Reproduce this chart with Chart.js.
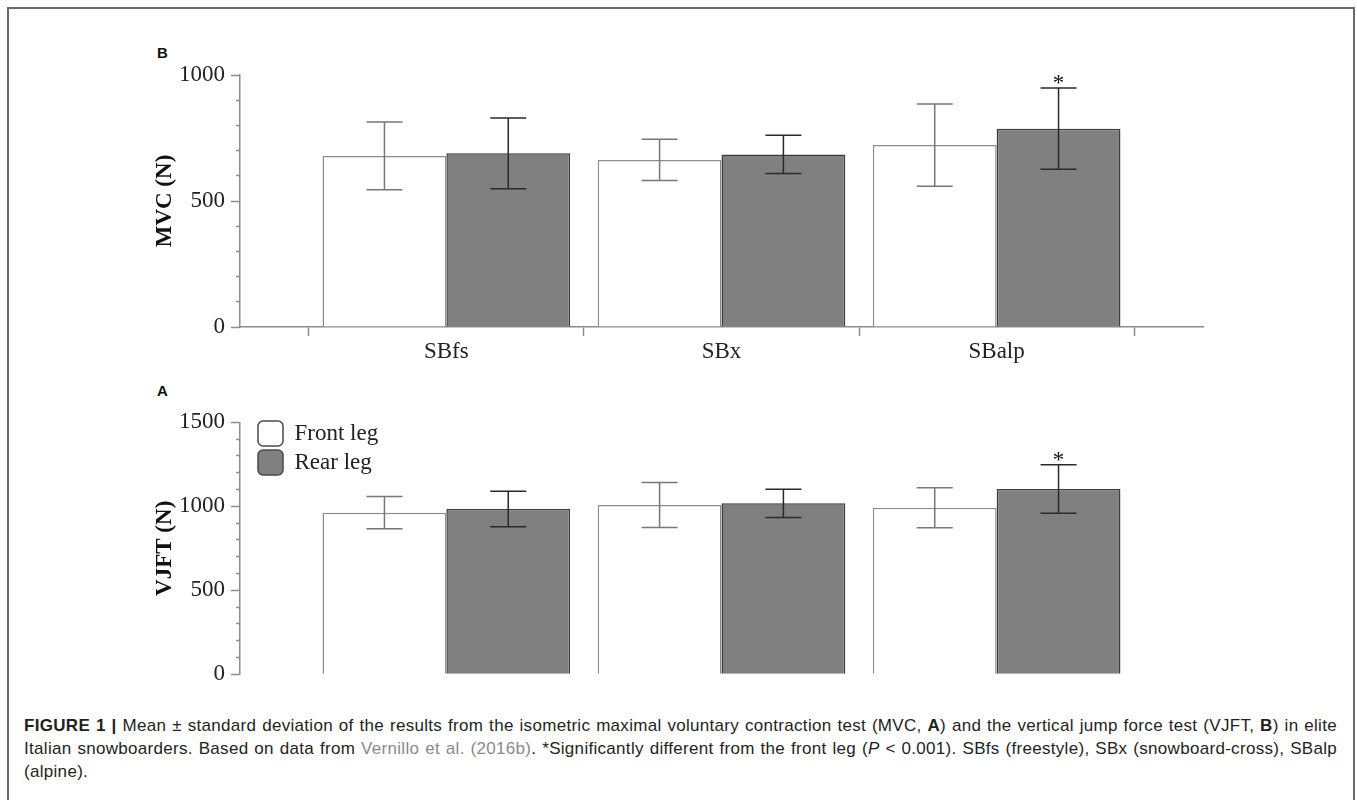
<!DOCTYPE html>
<html>
<head>
<meta charset="utf-8">
<script src="https://cdn.jsdelivr.net/npm/chart.js@4.4.1/dist/chart.umd.min.js"></script>
<style>
  html, body { margin: 0; padding: 0; background: #fff; width: 1357px; height: 800px; overflow: hidden; }
  #frame { position: absolute; left: 7px; top: 7px; width: 1344px; height: 900px; border: 2px solid #6a6a6a; border-bottom: none; }
  .panel { position: absolute; left: 157px; font: bold 15px "Liberation Sans", Arial, sans-serif; line-height: 15px; color: #111; }
  canvas { position: absolute; left: 0; }
  #chartB { top: 0; }
  #chartA { top: 370px; }
  #caption { position: absolute; left: 24px; top: 714px; width: 1313px; font: 17px "Liberation Sans", Arial, sans-serif; letter-spacing: 0.3px; line-height: 23px; color: #231f20; }
  #caption div { height: 23px; }
  #caption span.fill { white-space: nowrap; }
  #caption .ref { color: #8a8a8a; }
</style>
</head>
<body>
<div id="frame"></div>
<div class="panel" style="top:45px">B</div>
<div class="panel" style="top:383px">A</div>
<canvas id="chartB" width="1357" height="380"></canvas>
<canvas id="chartA" width="1357" height="330"></canvas>
<div id="caption">
  <div><span class="fill"><b>FIGURE 1 |</b> Mean ± standard deviation of the results from the isometric maximal voluntary contraction test (MVC, <b>A</b>) and the vertical jump force test (VJFT, <b>B</b>) in elite</span></div>
  <div><span class="fill">Italian snowboarders. Based on data from <span class="ref">Vernillo et al. (2016b)</span>. *Significantly different from the front leg (<i>P</i> &lt; 0.001). SBfs (freestyle), SBx (snowboard-cross), SBalp</span></div>
  <div><span>(alpine).</span></div>
</div>
<script>
const categories = ['SBfs', 'SBx', 'SBalp'];
const seriesNames = ['Front leg', 'Rear leg'];

// panel B - MVC (N), mean and SD
const mvcFrontMean = [679, 663, 722];
const mvcFrontSd = [134, 82, 163];
const mvcRearMean = [689, 685, 787];
const mvcRearSd = [140, 76, 161];
const mvcSig = [false, false, true];
const mvcLabels = [0, 500, 1000];

// panel A - VJFT (N), mean and SD
const vjftFrontMean = [962, 1008, 992];
const vjftFrontSd = [96, 134, 119];
const vjftRearMean = [984, 1018, 1103];
const vjftRearSd = [106, 84, 144];
const vjftSig = [false, false, true];
const vjftLabels = [0, 500, 1000, 1500];

const axisColor = '#8c8c8c';
const textColor = '#222';
const serif = '"Liberation Serif", "Times New Roman", serif';

// justify caption lines by spreading the word gaps
document.querySelectorAll('#caption span.fill').forEach((span) => {
  const w = span.getBoundingClientRect().width;
  const gaps = (span.textContent.match(/ /g) || []).length;
  span.style.wordSpacing = ((1313 - w) / gaps) + 'px';
});

// draws mean +- sd whiskers on top of every bar, and * when significant
const errorBars = {
  id: 'errorBars',
  afterDatasetsDraw(chart) {
    const ctx = chart.ctx;
    const y = chart.scales.y;
    chart.data.datasets.forEach((ds, di) => {
      const meta = chart.getDatasetMeta(di);
      meta.data.forEach((bar, i) => {
        const mean = ds.data[i].y;
        const top = y.getPixelForValue(mean + ds.sd[i]);
        const bot = y.getPixelForValue(mean - ds.sd[i]);
        ctx.save();
        ctx.strokeStyle = ds.errorColor;
        ctx.lineWidth = 1.5;
        ctx.beginPath();
        ctx.moveTo(bar.x, top); ctx.lineTo(bar.x, bot);
        ctx.moveTo(bar.x - 18, top); ctx.lineTo(bar.x + 18, top);
        ctx.moveTo(bar.x - 18, bot); ctx.lineTo(bar.x + 18, bot);
        ctx.stroke();
        if (ds.sig && ds.sig[i]) {
          ctx.fillStyle = '#111';
          ctx.font = '23px ' + serif;
          ctx.textAlign = 'center';
          ctx.textBaseline = 'alphabetic';
          ctx.fillText('*', bar.x, top + 2);
        }
        ctx.restore();
      });
    });
  }
};

// legend sits inside the plot, a bit right of and above the chartArea corner
const legendNudge = {
  id: 'legendNudge',
  afterLayout(chart) {
    const lg = chart.legend;
    if (lg && chart.options.plugins.legend.display) {
      const h = lg.bottom - lg.top;
      lg.left = chart.chartArea.left + 14;
      lg.top = chart.chartArea.top - 5.3;
      lg.bottom = lg.top + h;
    }
  }
};

const bandTicks = (scale) => {
  scale.ticks = [];
  for (let i = 0; i <= categories.length; i++) scale.ticks.push({ value: i });
};

const makeDatasets = (frontMean, frontSd, rearMean, rearSd, sig) => [
  {
    label: seriesNames[0],
    data: frontMean.map((v, i) => ({ x: i + 0.5, y: v })),
    sd: frontSd,
    backgroundColor: '#ffffff',
    borderColor: axisColor,
    borderWidth: 1.5,
    errorColor: '#777'
  },
  {
    label: seriesNames[1],
    data: rearMean.map((v, i) => ({ x: i + 0.5, y: v })),
    sd: rearSd,
    sig: sig,
    backgroundColor: '#808080',
    borderColor: '#3c3c3c',
    borderWidth: 1.5,
    errorColor: '#2a2a2a'
  }
];

const yAxis = (max, labels, title) => ({
  min: 0,
  max: max,
  afterBuildTicks: (scale) => {
    scale.ticks = [];
    for (let v = 0; v <= max; v += 100) scale.ticks.push({ value: v });
  },
  ticks: {
    autoSkip: false,
    padding: 6,
    color: textColor,
    font: { family: serif, size: 23 },
    callback: (v) => labels.includes(v) ? String(v) : ''
  },
  grid: {
    drawOnChartArea: false,
    color: axisColor,
    tickLength: 9,
    tickWidth: 1.5,
    // minor ticks are shorter: dash skips the outer 5px
    tickBorderDash: (c) => (c.tick && labels.includes(c.tick.value)) ? [] : [0, 5, 4, 30]
  },
  border: { display: true, color: axisColor, width: 1.5 },
  title: {
    display: true,
    text: title,
    color: '#111',
    font: { family: serif, size: 23, weight: 'bold' },
    padding: { top: 151, bottom: 0 }
  },
  afterFit: (scale) => { scale.width = 240; }
});

// Panel B (top)
new Chart(document.getElementById('chartB'), {
  type: 'bar',
  data: { datasets: makeDatasets(mvcFrontMean, mvcFrontSd, mvcRearMean, mvcRearSd, mvcSig) },
  options: {
    responsive: false,
    animation: false,
    devicePixelRatio: 1,
    layout: { padding: { left: 0, top: 75, right: 154, bottom: 10 } },
    datasets: { bar: { categoryPercentage: 0.9, barPercentage: 1.0 } },
    scales: {
      x: {
        type: 'linear',
        offset: false,
        min: -0.25,
        max: categories.length + 0.25,
        afterBuildTicks: bandTicks,
        ticks: { display: false },
        grid: { offset: false, drawOnChartArea: false, color: axisColor, tickLength: 9, tickWidth: 1.5 },
        border: { display: true, color: axisColor, width: 1.5 }
      },
      x2: {
        type: 'linear',
        position: 'bottom',
        offset: false,
        min: -0.25,
        max: categories.length + 0.25,
        afterBuildTicks: (scale) => { scale.ticks = categories.map((c, i) => ({ value: i + 0.5 })); },
        ticks: {
          autoSkip: false,
          padding: 2,
          color: textColor,
          font: { family: serif, size: 23 },
          callback: (v, i) => categories[i]
        },
        grid: { offset: false, display: false, drawTicks: false },
        border: { display: false },
        afterFit: (scale) => { scale.height = 34; }
      },
      y: yAxis(1000, mvcLabels, 'MVC (N)')
    },
    plugins: { legend: { display: false }, tooltip: { enabled: false } }
  },
  plugins: [errorBars]
});

// Panel A (bottom)
new Chart(document.getElementById('chartA'), {
  type: 'bar',
  data: { datasets: makeDatasets(vjftFrontMean, vjftFrontSd, vjftRearMean, vjftRearSd, vjftSig) },
  options: {
    responsive: false,
    animation: false,
    devicePixelRatio: 1,
    layout: { padding: { left: 0, top: 52.3, right: 154, bottom: 25.7 } },
    datasets: { bar: { categoryPercentage: 0.9, barPercentage: 1.0 } },
    scales: {
      x: {
        type: 'linear',
        display: false,
        offset: false,
        min: -0.25,
        max: categories.length + 0.25,
        afterBuildTicks: bandTicks,
        grid: { offset: false }
      },
      y: yAxis(1500, vjftLabels, 'VJFT (N)')
    },
    plugins: {
      legend: {
        display: true,
        position: 'chartArea',
        align: 'start',
        labels: {
          boxWidth: 25,
          boxHeight: 25,
          padding: 4,
          useBorderRadius: true,
          borderRadius: 5,
          color: textColor,
          font: { family: serif, size: 23 },
          generateLabels: (chart) => {
            const items = Chart.defaults.plugins.legend.labels.generateLabels(chart);
            items.forEach((it) => { it.strokeStyle = '#4a4a4a'; it.lineWidth = 1.5; });
            return items;
          }
        }
      },
      tooltip: { enabled: false }
    }
  },
  plugins: [errorBars, legendNudge]
});
</script>
</body>
</html>
